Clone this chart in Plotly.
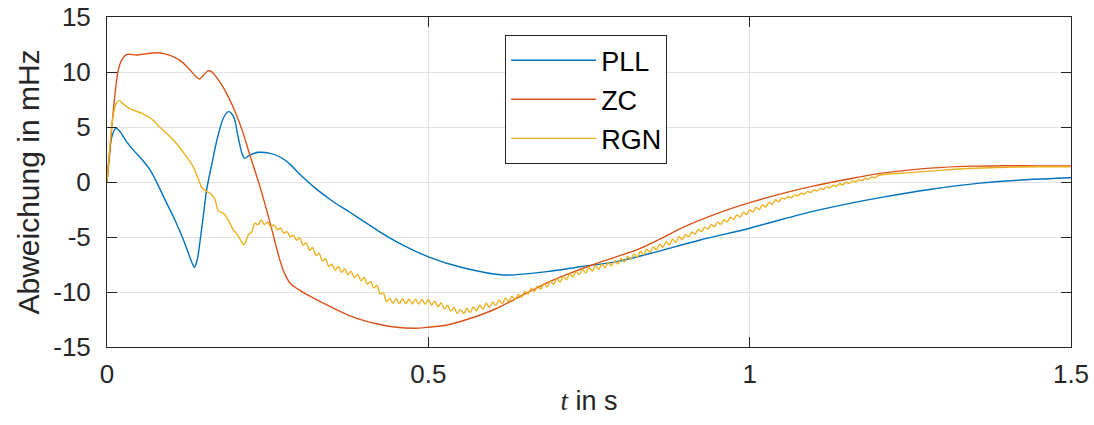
import plotly.graph_objects as go

# ---------------- data ----------------
pll_t = [0.0, 0.003, 0.007, 0.014, 0.02, 0.03, 0.041, 0.055, 0.067, 0.08, 0.093, 0.106, 0.119, 0.13, 0.136,
         0.141, 0.145, 0.150, 0.155, 0.163, 0.171, 0.181, 0.189, 0.197, 0.204, 0.210, 0.214, 0.222, 0.236,
         0.254, 0.27, 0.285, 0.3, 0.325, 0.35, 0.378, 0.40, 0.425, 0.456, 0.5, 0.554, 0.617, 0.684, 0.736, 0.793,
         0.845, 0.923, 1.0, 1.047, 1.1, 1.156, 1.203, 1.28, 1.358, 1.43, 1.5]
pll_v = [0.0, 2.0, 4.0, 4.9, 4.6, 3.7, 2.9, 2.0, 1.1, -0.35, -1.94, -3.5, -5.27, -7.0, -7.76,
         -6.9, -5.27, -3.0, -0.73, 1.6, 3.8, 5.8, 6.4, 5.94, 4.1, 2.6, 2.15, 2.45, 2.7,
         2.6, 2.25, 1.6, 0.7, -0.6, -1.7, -2.75, -3.6, -4.55, -5.6, -6.8, -7.8, -8.45, -8.15, -7.7, -7.24,
         -6.5, -5.27, -4.2, -3.45, -2.65, -1.94, -1.42, -0.68, -0.1, 0.2, 0.38]

zc_t = [0.0, 0.004, 0.0098, 0.0176, 0.024, 0.031, 0.046, 0.06, 0.077, 0.09, 0.103, 0.117, 0.129, 0.138,
        0.144, 0.150, 0.157, 0.162, 0.172, 0.186, 0.2, 0.212, 0.222, 0.238, 0.254, 0.269, 0.277, 0.285,
        0.296, 0.31, 0.326, 0.35, 0.375, 0.4, 0.425, 0.45, 0.477, 0.5, 0.529, 0.56, 0.585, 0.606, 0.63, 0.658,
        0.689, 0.72, 0.757, 0.79, 0.829, 0.86, 0.897, 0.95, 1.0, 1.047, 1.1, 1.156, 1.203, 1.25, 1.3,
        1.35, 1.4, 1.45, 1.5]
zc_v = [0.0, 2.5, 6.5, 10.2, 11.2, 11.6, 11.55, 11.65, 11.75, 11.65, 11.4, 10.9, 10.2, 9.6,
        9.36, 9.7, 10.1, 10.05, 9.4, 8.06, 6.3, 4.42, 2.5, -0.42, -3.76, -7.1, -8.4, -9.2,
        -9.7, -10.2, -10.7, -11.4, -12.1, -12.6, -12.95, -13.2, -13.3, -13.2, -13.0, -12.5, -12.0, -11.5, -10.8, -9.95,
        -9.05, -8.3, -7.5, -6.85, -6.05, -5.2, -4.1, -2.85, -1.88, -1.1, -0.35, 0.3, 0.78, 1.1, 1.33,
        1.44, 1.48, 1.47, 1.45]

rgn_t = [0.0, 0.004, 0.009, 0.014, 0.019, 0.025, 0.035, 0.045, 0.056, 0.07, 0.082, 0.095, 0.108, 0.12,
         0.134, 0.142, 0.148, 0.155, 0.162, 0.168, 0.173, 0.179, 0.184, 0.19, 0.196, 0.203, 0.209, 0.213,
         0.216,
         0.220, 0.225, 0.230, 0.235, 0.240, 0.245, 0.250, 0.255, 0.260, 0.265, 0.270, 0.275, 0.280, 0.285,
         0.290, 0.295, 0.300, 0.305, 0.310, 0.315, 0.320, 0.325, 0.330, 0.335, 0.340, 0.345, 0.350, 0.355,
         0.360, 0.365, 0.370, 0.375, 0.380, 0.385, 0.390, 0.395, 0.400, 0.405, 0.410, 0.415, 0.420, 0.425,
         0.430, 0.435, 0.440, 0.445, 0.450, 0.455, 0.460, 0.465, 0.470, 0.475, 0.480, 0.485, 0.490, 0.495,
         0.500, 0.505, 0.510, 0.515, 0.520, 0.525, 0.530, 0.535, 0.540, 0.545, 0.550, 0.555, 0.560, 0.565,
         0.570, 0.575, 0.580, 0.585, 0.590, 0.595, 0.600, 0.605, 0.610, 0.615, 0.620, 0.625, 0.630, 0.635,
         0.640, 0.645, 0.650, 0.655, 0.660, 0.665, 0.670, 0.675, 0.680, 0.685, 0.690, 0.695, 0.700, 0.705,
         0.710, 0.715, 0.720, 0.725, 0.730, 0.735, 0.740, 0.745, 0.750, 0.755, 0.760, 0.765, 0.770, 0.775,
         0.780, 0.785, 0.790, 0.795, 0.800, 0.805, 0.810, 0.815, 0.820, 0.825, 0.830, 0.835, 0.840, 0.845,
         0.850, 0.855, 0.860, 0.865, 0.870, 0.875, 0.880, 0.885, 0.890, 0.895, 0.900, 0.905, 0.910, 0.915,
         0.920, 0.925, 0.930, 0.935, 0.940, 0.945, 0.950, 0.955, 0.960, 0.965, 0.970, 0.975, 0.980, 0.985,
         0.990, 0.995, 1.000, 1.005, 1.010, 1.015, 1.020, 1.025, 1.030, 1.035, 1.040, 1.045, 1.050, 1.055,
         1.060, 1.065, 1.070, 1.075, 1.080, 1.085, 1.090, 1.095, 1.100, 1.105, 1.110, 1.115, 1.120, 1.125,
         1.130, 1.135, 1.140, 1.145, 1.150, 1.155, 1.160, 1.165, 1.170, 1.175, 1.180, 1.185, 1.190, 1.195,
         1.200, 1.25, 1.3, 1.35, 1.4, 1.45, 1.5]
rgn_v = [0.0, 3.0, 5.8, 7.1, 7.4, 7.1, 6.7, 6.45, 6.2, 5.7, 5.0, 4.3, 3.5, 2.6,
         1.4, 0.3, -0.55, -0.85, -1.1, -1.6, -2.6, -2.8, -3.0, -3.6, -4.3, -4.8, -5.4, -5.7,
         -5.4,
         -4.81, -4.58, -3.75, -3.90, -3.45, -3.86, -3.66, -4.08, -3.91, -4.34, -4.18, -4.64, -4.51, -4.97,
         -4.83, -5.29, -5.08, -5.75, -5.53, -6.20, -5.98, -6.67, -6.48, -7.17, -6.98, -7.67, -7.48, -8.02,
         -7.68, -8.22, -7.88, -8.42, -8.12, -8.70, -8.40, -8.98, -8.68, -9.30, -9.03, -9.65, -9.38, -10.17,
         -10.09, -10.88, -10.58, -11.03, -10.60, -11.05, -10.62, -11.07, -10.64, -11.09, -10.66, -11.10, -10.67, -11.12,
         -10.68, -11.20, -10.83, -11.35, -10.98, -11.53, -11.20, -11.74, -11.41, -11.96, -11.58, -11.97, -11.48, -11.87,
         -11.35, -11.72, -11.20, -11.56, -11.04, -11.40, -10.90, -11.22, -10.73, -11.05, -10.56, -10.87, -10.39, -10.70,
         -10.22, -10.48, -9.94, -10.19, -9.66, -9.95, -9.44, -9.74, -9.23, -9.52, -9.01, -9.31, -8.80, -9.09,
         -8.58, -8.87, -8.36, -8.64, -8.13, -8.42, -7.94, -8.26, -7.78, -8.10, -7.62, -7.95, -7.47, -7.79,
         -7.31, -7.63, -7.15, -7.46, -6.95, -7.25, -6.74, -7.03, -6.53, -6.82, -6.32, -6.61, -6.11, -6.40,
         -5.88, -6.17, -5.65, -5.94, -5.42, -5.71, -5.19, -5.48, -4.96, -5.25, -4.78, -4.97, -4.55, -4.73,
         -4.32, -4.51, -4.10, -4.28, -3.87, -4.06, -3.65, -3.84, -3.43, -3.62, -3.21, -3.40, -2.99, -3.18,
         -2.77, -2.96, -2.55, -2.73, -2.32, -2.50, -2.08, -2.26, -1.85, -2.03, -1.61, -1.80, -1.47, -1.56,
         -1.32, -1.41, -1.17, -1.26, -1.02, -1.11, -0.87, -0.96, -0.72, -0.81, -0.58, -0.67, -0.44, -0.53,
         -0.30, -0.39, -0.16, -0.25, -0.02, -0.12, 0.10, 0.00, 0.22, 0.12, 0.34, 0.24, 0.46, 0.37,
         0.59, 0.85, 1.08, 1.25, 1.34, 1.38, 1.39]

series_names = ["PLL", "ZC", "RGN"]
x_ticks = [0, 0.5, 1, 1.5]
x_tick_labels = ["0", "0.5", "1", "1.5"]
y_ticks = [-15, -10, -5, 0, 5, 10, 15]
y_tick_labels = ["-15", "-10", "-5", "0", "5", "10", "15"]

# ---------------- figure ----------------
colors = ["#0072BD", "#D95319", "#EDB120"]
FONT = "Liberation Sans, Arial, sans-serif"
AX = "#262626"

fig = go.Figure()
for name, t, v, c in zip(series_names, [pll_t, zc_t, rgn_t], [pll_v, zc_v, rgn_v], colors):
    fig.add_trace(go.Scatter(x=t, y=v, mode="lines", name=name, legendgroup=name,
                             line=dict(color=c, width=1.4, shape="spline", smoothing=0.8)))

axis_common = dict(showline=True, linecolor=AX, linewidth=1, mirror="allticks",
                   ticks="inside", ticklen=10, tickcolor=AX, tickwidth=1,
                   showgrid=True, gridcolor="#e3e3e3", gridwidth=1, zeroline=False,
                   automargin=False, ticklabeloverflow="allow",
                   tickfont=dict(family=FONT, size=26, color=AX))

fig.update_xaxes(range=[0, 1.5], tickvals=x_ticks, ticktext=x_tick_labels, ticklabelstandoff=4,
                 title=dict(text="<span style=\"font-family:'Liberation Serif', serif\"><i>t</i></span> in s",
                            font=dict(family=FONT, size=27, color=AX), standoff=2),
                 **axis_common)
fig.update_yaxes(range=[-15, 15], tickvals=y_ticks, ticktext=y_tick_labels, ticklabelstandoff=10,
                 title=dict(text="Abweichung in mHz", font=dict(family=FONT, size=30, color=AX), standoff=4),
                 **axis_common)

fig.update_layout(
    template="none",
    width=1094, height=425,
    margin=dict(l=107, r=23, t=17, b=78),
    paper_bgcolor="white", plot_bgcolor="white",
    showlegend=True,
    legend=dict(x=0.413, y=0.945, xanchor="left", yanchor="top",
                bgcolor="white", bordercolor=AX, borderwidth=1,
                font=dict(family=FONT, size=27, color="black"),
                tracegroupgap=1, itemwidth=85),
)

# remove the browser's default 8px body margin so the figure sits at the page origin
fig.write_html("out.html", config={"displayModeBar": False},
               post_script="document.body.style.margin='0';")
